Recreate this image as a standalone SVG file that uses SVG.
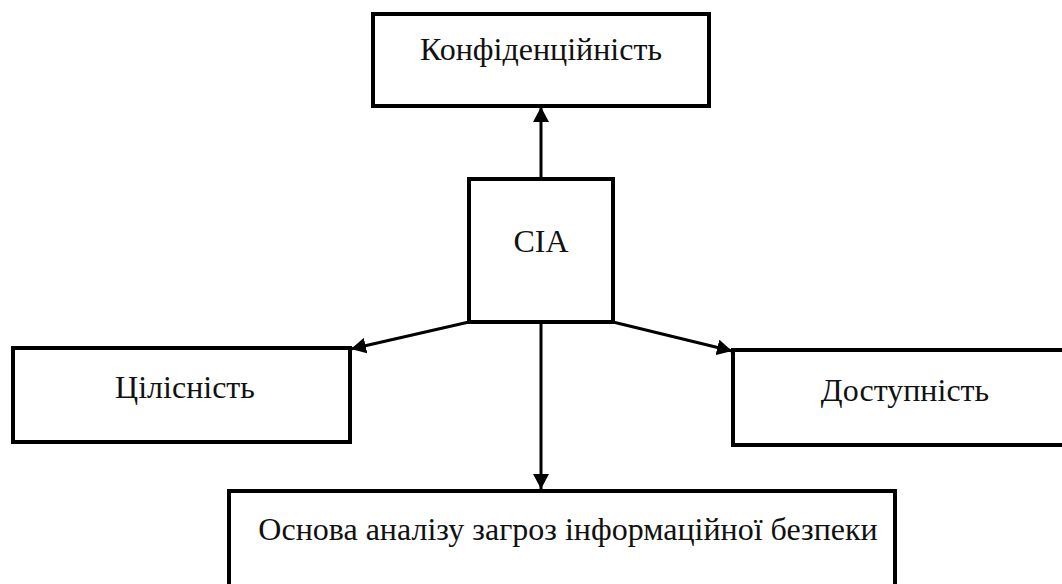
<svg xmlns="http://www.w3.org/2000/svg" width="1062" height="584" viewBox="0 0 1062 584">
  <style>
    .box { fill: #ffffff; stroke: #000000; stroke-width: 4; }
    .lbl { font-size: 32px; fill: #111111; text-anchor: middle; }
    .edge { stroke: #000000; stroke-width: 3; fill: none; marker-end: url(#arr); }
  </style>
  <defs>
    <marker id="arr" markerUnits="userSpaceOnUse" markerWidth="16" markerHeight="16" refX="15" refY="8" orient="auto">
      <path d="M0,0 L15,8 L0,16 Z" fill="#000000"/>
    </marker>
  </defs>
  <rect width="1062" height="584" fill="#ffffff"/>
  <g font-family="Liberation Serif, Tinos, Times New Roman, DejaVu Serif, serif">
  <g id="node-conf">
    <rect class="box" x="373" y="14" width="336" height="92"/>
    <text class="lbl" x="541" y="60">Конфіденційність</text>
  </g>
  <g id="node-cia">
    <rect class="box" x="469" y="179" width="144" height="143"/>
    <text class="lbl" x="541" y="252">CIA</text>
  </g>
  <g id="node-integrity">
    <rect class="box" x="13" y="348" width="337" height="94"/>
    <text class="lbl" x="185" y="398">Цілісність</text>
  </g>
  <g id="node-availability">
    <rect class="box" x="733" y="350" width="340" height="95"/>
    <text class="lbl" x="905" y="401">Доступність</text>
  </g>
  <g id="node-threats">
    <rect class="box" x="229" y="491" width="666" height="110"/>
    <text class="lbl" x="568" y="540">Основа аналізу загроз інформаційної безпеки</text>
  </g>
  </g>
  <g id="connectors">
    <line class="edge" x1="541" y1="179" x2="541" y2="107"/>
    <line class="edge" x1="469" y1="322" x2="351" y2="349"/>
    <line class="edge" x1="613" y1="322" x2="732" y2="351"/>
    <line class="edge" x1="541" y1="322" x2="541" y2="489"/>
  </g>
</svg>
